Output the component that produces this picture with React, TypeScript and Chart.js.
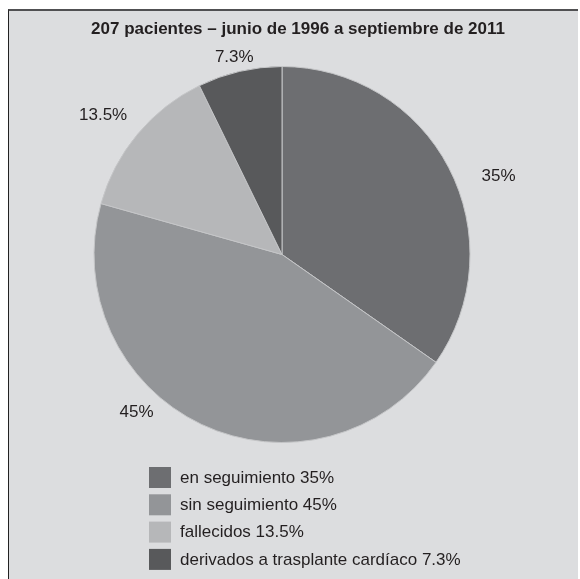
import React, { useEffect, useRef } from "react";
import { Chart, registerables } from "chart.js";

Chart.register(...registerables);

const TITLE = "207 pacientes – junio de 1996 a septiembre de 2011";
const CATEGORIES = ["en seguimiento", "sin seguimiento", "fallecidos", "derivados a trasplante cardíaco"];
const VALUES = [35, 45, 13.5, 7.3];
const VALUE_LABELS = ["35%", "45%", "13.5%", "7.3%"];
const COLORS = ["#6d6e71", "#939598", "#b6b7b9", "#58595b"];

// styling nudges for outside labels (relative to mid-angle point)
const LABEL_NUDGE: [number, number][] = [
  [25, 22],
  [-53, -37],
  [-13, -1],
  [1, 13],
];

const FONT = "'Liberation Sans', Arial, Helvetica, sans-serif";

const textPlugin = {
  id: "textPlugin",
  afterDraw(chart: any) {
    const ctx = chart.ctx as CanvasRenderingContext2D;
    const meta = chart.getDatasetMeta(0);
    ctx.save();
    // title
    ctx.fillStyle = "#231f20";
    ctx.font = `bold 17px ${FONT}`;
    ctx.textAlign = "center";
    ctx.textBaseline = "middle";
    ctx.fillText(TITLE, 289, 18);

    // outside labels
    ctx.font = `17px ${FONT}`;
    meta.data.forEach((arc: any, i: number) => {
      const { x, y, startAngle, endAngle, outerRadius } = arc.getProps(
        ["x", "y", "startAngle", "endAngle", "outerRadius"],
        true
      );
      const mid = (startAngle + endAngle) / 2;
      const r = outerRadius + 28;
      const lx = x + Math.cos(mid) * r + LABEL_NUDGE[i][0];
      const ly = y + Math.sin(mid) * r + LABEL_NUDGE[i][1];
      ctx.fillText(VALUE_LABELS[i], lx, ly);
    });

    // legend
    ctx.textAlign = "left";
    CATEGORIES.forEach((c, i) => {
      const by = 456 + i * 27.3;
      ctx.fillStyle = COLORS[i];
      ctx.fillRect(140, by, 22, 21);
      ctx.fillStyle = "#231f20";
      ctx.fillText(`${c} ${VALUE_LABELS[i]}`, 171, by + 11);
    });
    ctx.restore();
  },
};

export default function App() {
  const ref = useRef<HTMLCanvasElement | null>(null);
  useEffect(() => {
    if (!ref.current) return;
    const chart = new Chart(ref.current, {
      type: "pie",
      data: {
        labels: CATEGORIES,
        datasets: [
          {
            data: VALUES,
            backgroundColor: COLORS,
            borderColor: "#c4c5c7",
            borderWidth: 1,
            hoverOffset: 0,
            offset: 0,
          },
        ],
      },
      options: {
        responsive: false,
        animation: false,
        layout: { padding: { left: 84.5, right: 107.5, top: 55, bottom: 136 } },
        plugins: {
          legend: { display: false },
          title: { display: false },
          tooltip: { enabled: false },
        },
      },
      plugins: [textPlugin],
    });
    return () => chart.destroy();
  }, []);
  return (
    <div
      style={{
        position: "absolute",
        left: 8,
        top: 9,
        width: 569,
        height: 568,
        borderTop: "2px solid #505052",
        borderLeft: "1px solid #222",
        background: "#dcdddf",
      }}
    >
      <canvas ref={ref} width={569} height={568} style={{ display: "block" }} />
    </div>
  );
}
